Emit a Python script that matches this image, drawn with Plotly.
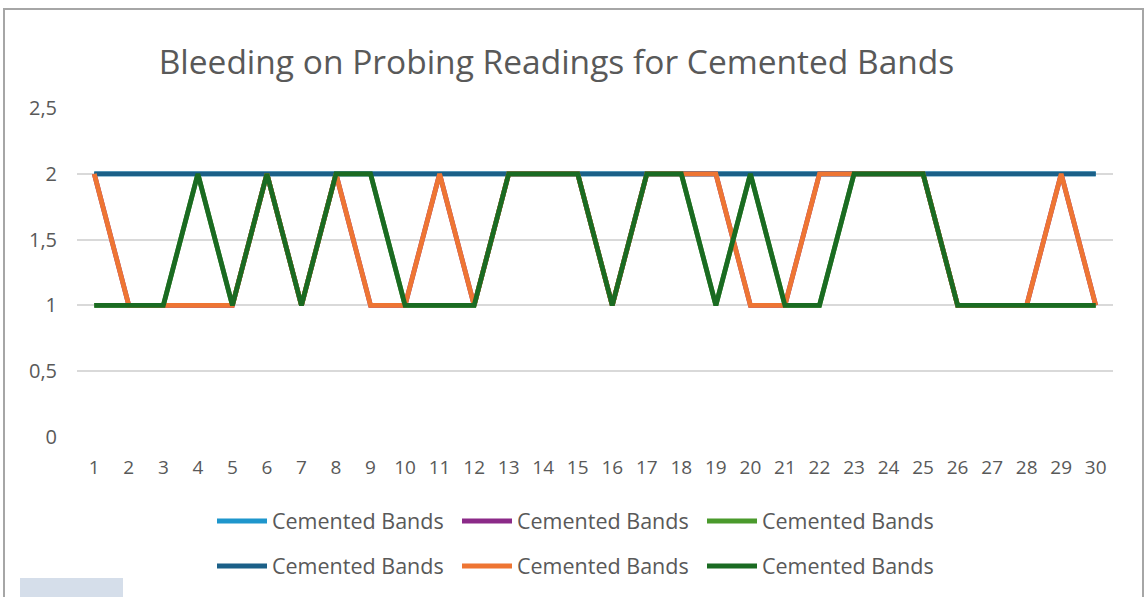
import plotly.graph_objects as go

# ── Data ────────────────────────────────────────────────────────────────────
readings = list(range(1, 31))

# series drawn first are hidden underneath the later ones in the reference
light_blue = [2] * 30
purple = [2, 1, 1, 1, 1, 2, 1, 2, 1, 1, 2, 1, 2, 2, 2, 1, 2, 2, 2, 1, 1, 2, 2, 2, 2, 1, 1, 1, 2, 1]
light_green = [1, 1, 1, 2, 1, 2, 1, 2, 2, 1, 1, 1, 2, 2, 2, 1, 2, 2, 1, 2, 1, 1, 2, 2, 2, 1, 1, 1, 1, 1]
dark_blue = [2] * 30
orange = [2, 1, 1, 1, 1, 2, 1, 2, 1, 1, 2, 1, 2, 2, 2, 1, 2, 2, 2, 1, 1, 2, 2, 2, 2, 1, 1, 1, 2, 1]
dark_green = [1, 1, 1, 2, 1, 2, 1, 2, 2, 1, 1, 1, 2, 2, 2, 1, 2, 2, 1, 2, 1, 1, 2, 2, 2, 1, 1, 1, 1, 1]

series_name = "Cemented Bands"
y_ticks = [0, 0.5, 1, 1.5, 2, 2.5]

# ── Figure ──────────────────────────────────────────────────────────────────
W, H = 1145, 597
L, R, T, B = 77, 32, 108, 160
pw, ph = W - L - R, H - T - B


def px_x(x):
    return (x - L) / pw


def px_y(y):
    return (H - B - y) / ph


FONT = "Open Sans"
GREY = "#595959"

fig = go.Figure()
traces = [
    (light_blue, "#1e96cc", "legend"),
    (purple, "#8b2a88", "legend"),
    (light_green, "#4a9a2c", "legend"),
    (dark_blue, "#1b6088", "legend2"),
    (orange, "#ee7533", "legend2"),
    (dark_green, "#1a6b22", "legend2"),
]
for vals, color, leg in traces:
    fig.add_trace(go.Scatter(
        x=readings, y=vals, mode="lines", name=series_name,
        line=dict(color=color, width=4.8), legend=leg,
    ))

legend_common = dict(
    orientation="h", xanchor="left", yanchor="middle",
    font=dict(family=FONT, size=21.5, color=GREY),
    entrywidth=180, entrywidthmode="pixels",
    itemwidth=50, bgcolor="rgba(0,0,0,0)", tracegroupgap=0,
)

fig.update_layout(
    width=W, height=H,
    margin=dict(l=L, r=R, t=T, b=B, autoexpand=False),
    paper_bgcolor="white", plot_bgcolor="white",
    separators=", ",
    title=dict(
        text="Bleeding on Probing Readings for Cemented Bands",
        xref="paper", x=px_x(556.5), xanchor="center",
        y=1 - 62 / H, yanchor="middle",
        font=dict(family=FONT, size=33.5, color=GREY),
    ),
    xaxis=dict(
        tickmode="array", tickvals=readings, ticktext=[str(r) for r in readings],
        range=[0.5, 30.5], showgrid=False, zeroline=False, showline=False,
        ticks="", ticklabelstandoff=17,
        tickfont=dict(family=FONT, size=19, color=GREY),
    ),
    yaxis=dict(
        range=[0, 2.5], tickvals=y_ticks, showgrid=True, gridcolor="#d9d9d9",
        gridwidth=1.5, zeroline=False, showline=False, ticks="",
        ticklabelstandoff=19,
        tickfont=dict(family=FONT, size=20, color=GREY),
    ),
    legend=dict(x=px_x(212), y=px_y(521), **legend_common),
    legend2=dict(x=px_x(212), y=px_y(566), **legend_common),
    shapes=[
        # chart area border
        dict(type="rect", xref="paper", yref="paper",
             x0=px_x(4), x1=px_x(1143), y0=px_y(640), y1=px_y(9),
             line=dict(color="#a6a6a6", width=2), fillcolor="rgba(0,0,0,0)",
             layer="below"),
        # watermark fragment peeking in at the bottom left
        dict(type="rect", xref="paper", yref="paper",
             x0=px_x(20), x1=px_x(123), y0=px_y(600), y1=px_y(578),
             line=dict(width=0), fillcolor="#d5deea", layer="below"),
    ],
)

fig.write_html(
    "out.html",
    config={"displayModeBar": False},
    post_script="document.body.style.margin = '0';",
)
